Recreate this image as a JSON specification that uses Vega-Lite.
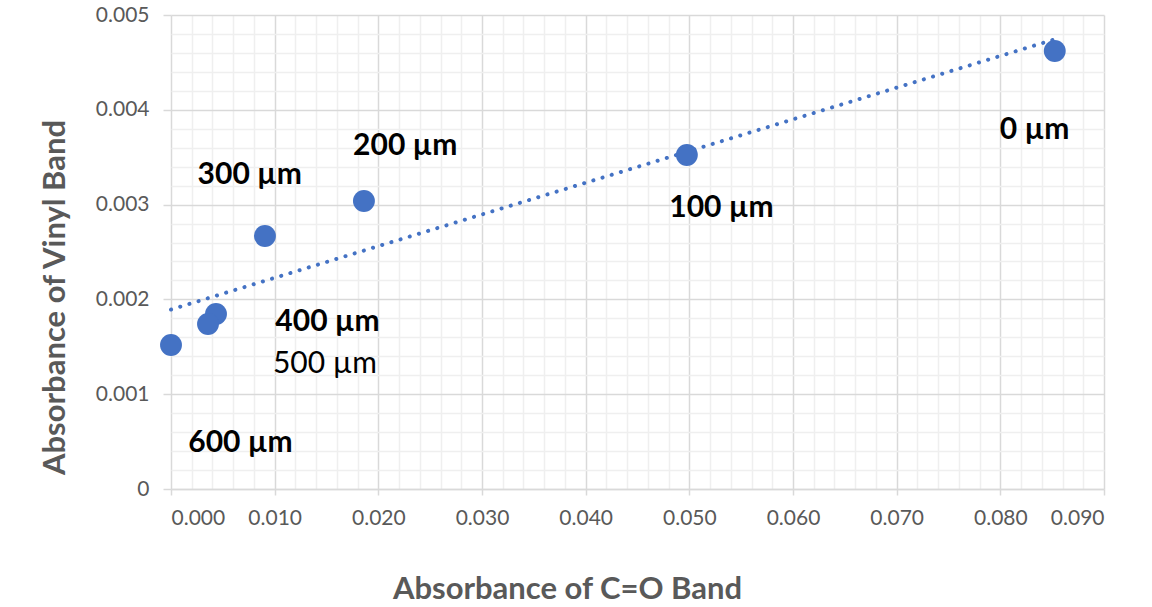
{
  "$schema": "https://vega.github.io/schema/vega-lite/v6.json",
  "width": 933,
  "height": 474,
  "autosize": {"type": "none"},
  "padding": {"left": 171, "top": 15, "right": 48, "bottom": 118},
  "background": "white",
  "config": {
    "view": {"stroke": null},
    "font": "Lato",
    "axis": {"labelFont": "Lato", "titleFont": "Lato"}
  },
  "data": {
    "values": [
      {"x": 0.08525, "y": 0.00462, "label": "0 µm", "lx": 0.0833, "ly": 0.00379},
      {"x": 0.04976, "y": 0.003523, "label": "100 µm", "lx": 0.0531, "ly": 0.00296},
      {"x": 0.01861, "y": 0.003038, "label": "200 µm", "lx": 0.0226, "ly": 0.00362},
      {"x": 0.00906, "y": 0.002669, "label": "300 µm", "lx": 0.0076, "ly": 0.00331},
      {"x": 0.00434, "y": 0.001846, "label": "400 µm", "lx": 0.0151, "ly": 0.00176},
      {"x": 0.00357, "y": 0.00174, "label": "500 µm", "lx": 0.01485, "ly": 0.00132},
      {"x": 0.0, "y": 0.001519, "label": "600 µm", "lx": 0.0067, "ly": 0.000485}
    ]
  },
  "resolve": {"axis": {"x": "independent", "y": "independent"}},
  "layer": [
    {
      "mark": {"type": "point", "opacity": 0},
      "encoding": {
        "x": {"field": "x", "type": "quantitative", "scale": {"domain": [0, 0.09], "nice": false, "zero": false},
          "axis": {"orient": "bottom", "values": [0.002,0.004,0.006,0.008,0.012,0.014,0.016,0.018,0.022,0.024,0.026,0.028,0.032,0.034,0.036,0.038,0.042,0.044,0.046,0.048,0.052,0.054,0.056,0.058,0.062,0.064,0.066,0.068,0.072,0.074,0.076,0.078,0.082,0.084,0.086,0.088],
            "grid": true, "gridColor": "#efefef", "gridWidth": 1.5, "labels": false, "ticks": false, "domain": false, "title": null}},
        "y": {"field": "y", "type": "quantitative", "scale": {"domain": [0, 0.005], "nice": false, "zero": false},
          "axis": {"orient": "left", "values": [0.0002,0.0004,0.0006,0.0008,0.0012,0.0014,0.0016,0.0018,0.0022,0.0024,0.0026,0.0028,0.0032,0.0034,0.0036,0.0038,0.0042,0.0044,0.0046,0.0048],
            "grid": true, "gridColor": "#efefef", "gridWidth": 1.5, "labels": false, "ticks": false, "domain": false, "title": null}}
      }
    },
    {
      "mark": {"type": "circle", "opacity": 0},
      "encoding": {
        "x": {"field": "x", "type": "quantitative",
          "axis": {"orient": "bottom", "values": [0,0.01,0.02,0.03,0.04,0.05,0.06,0.07,0.08,0.09], "format": ".3f",
            "grid": true, "gridColor": "#d9d9d9", "gridWidth": 1.5,
            "domain": true, "domainColor": "#d9d9d9", "domainWidth": 1.5,
            "ticks": true, "tickColor": "#d9d9d9", "tickSize": 6, "tickWidth": 1.5,
            "labelFontSize": 21, "labelColor": "#595959", "labelPadding": 12,
            "title": "Absorbance of C=O Band", "titleFontSize": 31, "titleFontWeight": "bold", "titleColor": "#595959",
            "titleX": 396, "titleY": 100, "titleAlign": "center", "titleBaseline": "middle"}},
        "y": {"field": "y", "type": "quantitative",
          "axis": {"orient": "left", "values": [0,0.001,0.002,0.003,0.004,0.005],
            "labelExpr": "datum.value == 0 ? '0' : format(datum.value, '.3f')",
            "grid": true, "gridColor": "#d9d9d9", "gridWidth": 1.5,
            "domain": false,
            "ticks": true, "tickColor": "#d9d9d9", "tickSize": 8, "tickWidth": 1.5,
            "labelFontSize": 21, "labelColor": "#595959", "labelPadding": 14,
            "title": "Absorbance of Vinyl Band", "titleFontSize": 31, "titleFontWeight": "bold", "titleColor": "#595959",
            "titleX": -116, "titleY": 282, "titleAlign": "center", "titleBaseline": "middle", "titleAngle": -90}}
      }
    },
    {
      "transform": [{"regression": "y", "on": "x", "method": "linear"}],
      "mark": {"type": "line", "color": "#4472C4", "strokeWidth": 4, "strokeCap": "round", "strokeDash": [0.1, 9.5]},
      "encoding": {
        "x": {"field": "x", "type": "quantitative", "axis": null},
        "y": {"field": "y", "type": "quantitative", "axis": null}
      }
    },
    {
      "mark": {"type": "circle", "color": "#4472C4", "opacity": 1, "size": 480},
      "encoding": {
        "x": {"field": "x", "type": "quantitative", "axis": null},
        "y": {"field": "y", "type": "quantitative", "axis": null}
      }
    },
    {
      "transform": [{"filter": "datum.label != '500 µm'"}],
      "mark": {"type": "text", "font": "Lato", "fontSize": 30, "fontWeight": "bold", "color": "#000000", "align": "center", "baseline": "middle"},
      "encoding": {
        "x": {"field": "lx", "type": "quantitative", "axis": null},
        "y": {"field": "ly", "type": "quantitative", "axis": null},
        "text": {"field": "label"}
      }
    },
    {
      "transform": [{"filter": "datum.label == '500 µm'"}],
      "mark": {"type": "text", "font": "Lato", "fontSize": 30, "fontWeight": "normal", "color": "#000000", "align": "center", "baseline": "middle"},
      "encoding": {
        "x": {"field": "lx", "type": "quantitative", "axis": null},
        "y": {"field": "ly", "type": "quantitative", "axis": null},
        "text": {"field": "label"}
      }
    }
  ]
}
